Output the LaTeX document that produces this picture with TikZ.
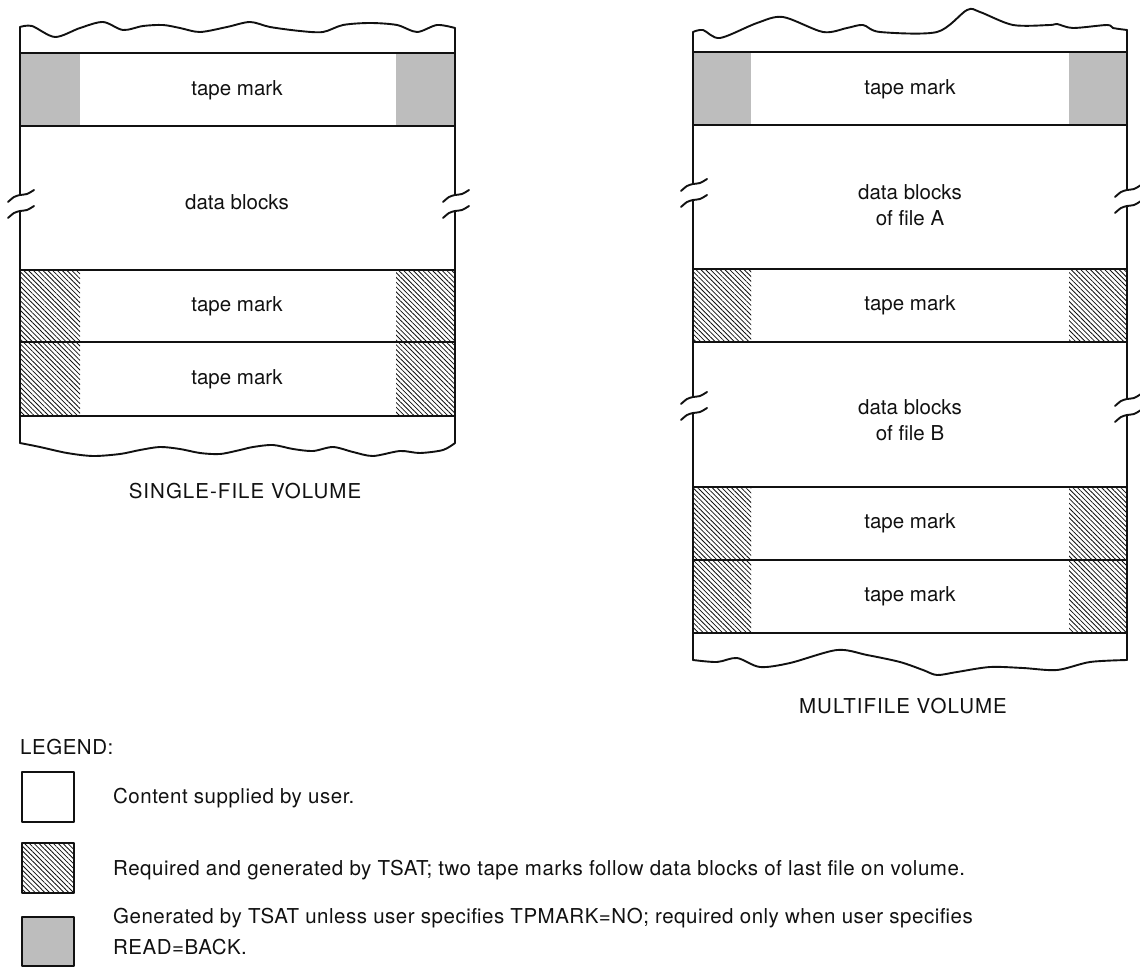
\documentclass[tikz,border=0pt]{standalone}
\usepackage{fontspec}
\setmainfont{TeX Gyre Heros}
\newfontfamily\titlefont[LetterSpace=5]{TeX Gyre Heros}
\newfontfamily\keyfont[LetterSpace=2.5]{TeX Gyre Heros}
\usetikzlibrary{patterns.meta}
\definecolor{ink}{HTML}{111111}
\definecolor{dotgray}{HTML}{BDBDBD}
\tikzset{
  edge/.style={draw=ink,line width=1.9pt,line join=round,line cap=round},
  hatched/.style={pattern={Lines[angle=-45,distance=3.4pt,line width=0.8pt]},pattern color=ink},
  dotshade/.style={fill=dotgray},
  lbl/.style={font=\fontsize{20.5}{26}\selectfont,text=ink,inner sep=0pt,align=center},
  title/.style={lbl,font=\fontsize{20.5}{26}\selectfont\titlefont},
  keytext/.style={lbl,anchor=base west,font=\fontsize{20.5}{26}\selectfont\keyfont},
}
% two little S-curves where a tape side is broken off
\newcommand{\tapebreak}[2]{%
  \draw[edge,shift={(#1,#2)}] plot[smooth] coordinates {(-12,-1) (-6,-6) (0,-8) (7,-9) (14,-13)};
  \draw[edge,shift={(#1,#2)}] plot[smooth] coordinates {(-12,15) (-6,10) (0,8) (7,7) (14,3)};
}

\begin{document}
\begin{tikzpicture}[x=1pt,y=-1pt]
  \useasboundingbox (0,0) rectangle (1140,968);

  %% single-file volume
  \foreach \ytop/\ybot/\kind in {53/126/dotshade, 270/342/hatched, 342/416/hatched}
  {
    \path[\kind] (20,\ytop) rectangle (80,\ybot);
    \path[\kind] (396,\ytop) rectangle (455,\ybot);
  }
  \foreach \y in {53,126,270,342,416}
    \draw[edge] (20,\y) -- (455,\y);
  \draw[edge] plot[smooth] coordinates {(20,27) (32,26) (55,37) (80,28) (103,22) (123,30) (143,26)
    (163,25) (180,28) (200,32) (227,27) (250,22) (270,27) (300,31) (323,32) (343,25) (370,23)
    (397,25) (417,32) (437,25) (455,28)};
  \draw[edge] plot[smooth] coordinates {(20,443) (40,447) (67,453) (93,456) (120,454) (140,450)
    (160,447) (180,449) (200,453) (220,454) (240,450) (253,447) (273,445) (293,449) (313,451)
    (333,447) (353,452) (373,456) (400,451) (420,453) (443,450) (455,443)};
  \draw[edge] (20,27) -- (20,195) (20,211) -- (20,443);
  \draw[edge] (455,28) -- (455,195) (455,211) -- (455,443);
  \tapebreak{20}{203}
  \tapebreak{455}{203}

  \node[lbl] (sTM1) at (237,90) {tape mark};
  \node[lbl] (sData) at (237,202) {data blocks};
  \node[lbl] (sTM2) at (237,306) {tape mark};
  \node[lbl] (sTM3) at (237,379) {tape mark};
  \node[title] (sTitle) at (245,491) {SINGLE-FILE VOLUME};

  %% multifile volume
  \foreach \ytop/\ybot/\kind in {52/125/dotshade, 269/342/hatched, 487/560/hatched, 560/633/hatched}
  {
    \path[\kind] (693,\ytop) rectangle (751,\ybot);
    \path[\kind] (1069,\ytop) rectangle (1127,\ybot);
  }
  \foreach \y in {52,125,269,342,487,560,633}
    \draw[edge] (693,\y) -- (1127,\y);
  \draw[edge] plot[smooth] coordinates {(693,32) (703,30) (720,38) (757,23) (783,17) (823,32)
    (847,28) (863,25) (880,32) (937,32) (967,10) (980,12) (1013,25) (1050,25) (1057,24)
    (1073,28) (1107,25) (1113,28) (1127,30)};
  \draw[edge] plot[smooth] coordinates {(693,660) (717,662) (737,658) (760,667) (790,663)
    (837,650) (867,655) (900,662) (923,670) (937,675) (957,672) (990,667) (1023,668)
    (1057,670) (1090,662) (1127,660)};
  \draw[edge] (693,32) -- (693,184) (693,200) -- (693,397) (693,413) -- (693,660);
  \draw[edge] (1127,30) -- (1127,190) (1127,206) -- (1127,399) (1127,415) -- (1127,660);
  \tapebreak{693}{192}
  \tapebreak{693}{405}
  \tapebreak{1127}{198}
  \tapebreak{1127}{407}

  \node[lbl] (mTM1) at (910,89) {tape mark};
  \node[lbl] (mDataA) at (910,205) {data blocks\\of file A};
  \node[lbl] (mTM2) at (910,305) {tape mark};
  \node[lbl] (mDataB) at (910,420) {data blocks\\of file B};
  \node[lbl] (mTM3) at (910,523) {tape mark};
  \node[lbl] (mTM4) at (910,596) {tape mark};
  \node[title] (mTitle) at (903,706) {MULTIFILE VOLUME};

  %% legend
  \node[keytext,anchor=west] (legend) at (20,747) {LEGEND:};
  \draw[edge] (22,772) rectangle (74,822);
  \path[hatched] (22,843) rectangle (74,893);
  \draw[edge] (22,843) rectangle (74,893);
  \path[dotshade] (22,917) rectangle (74,966);
  \draw[edge] (22,917) rectangle (74,966);
  \node[keytext] (keyUser) at (113,803) {Content supplied by user.};
  \node[keytext] (keyReq) at (113,875) {Required and generated by TSAT; two tape marks follow data blocks of last file on volume.};
  \node[keytext] (keyGen) at (113,923) {Generated by TSAT unless user specifies TPMARK=NO; required only when user specifies};
  \node[keytext] (keyGen2) at (113,954) {READ=BACK.};
\end{tikzpicture}
\end{document}
